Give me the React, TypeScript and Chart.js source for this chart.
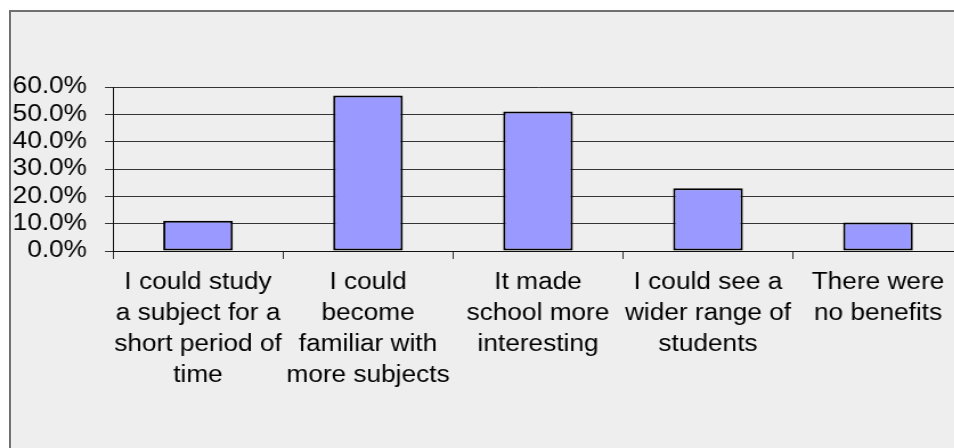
import React, { useEffect, useRef } from "react";
import { Chart, registerables } from "chart.js";

Chart.register(...registerables);

const categories: string[][] = [
  ["I could study", "a subject for a", "short period of", "time"],
  ["I could", "become", "familiar with", "more subjects"],
  ["It made", "school more", "interesting"],
  ["I could see a", "wider range of", "students"],
  ["There were", "no benefits"],
];
const values: number[] = [11.1, 56.9, 51.0, 23.0, 10.4];
const yTicks: number[] = [0, 10, 20, 30, 40, 50, 60];

const S = 1.14; // horizontal stretch of the original rendering
const CW = 860;
const CH = 448;

export default function App() {
  const ref = useRef<HTMLCanvasElement | null>(null);

  useEffect(() => {
    if (!ref.current) return;
    const font = { family: "'Liberation Sans', Arial, sans-serif", size: 23 };
    const chart = new Chart(ref.current, {
      type: "bar",
      data: {
        labels: categories,
        datasets: [
          {
            data: values,
            backgroundColor: "#9999ff",
            borderColor: "#000000",
            borderWidth: 2,
            borderSkipped: false,
            barPercentage: 0.41,
            categoryPercentage: 1,
          },
        ],
      },
      options: {
        responsive: false,
        animation: false,
        devicePixelRatio: 1,
        layout: { padding: { left: 0, top: 87, right: CW - 963 / S, bottom: 0 } },
        plugins: { legend: { display: false }, tooltip: { enabled: false } },
        scales: {
          x: {
            type: "category",
            offset: true,
            grid: {
              offset: true,
              drawOnChartArea: false,
              drawTicks: true,
              tickLength: 8,
              color: "#333333",
            },
            border: { display: true, color: "#111111", width: 1 },
            ticks: {
              color: "#000000",
              font: { ...font, lineHeight: 31 / 23 },
              maxRotation: 0,
              minRotation: 0,
              autoSkip: false,
              padding: 8,
            },
            afterFit: (scale: any) => {
              scale.height = CH - 251;
            },
          },
          y: {
            min: 0,
            max: 60,
            afterBuildTicks: (scale: any) => {
              scale.ticks = yTicks.map((v) => ({ value: v }));
            },
            grid: {
              color: "#333333",
              lineWidth: 1,
              drawTicks: true,
              tickLength: 8 / S,
            },
            border: { display: true, color: "#111111", width: 1 },
            ticks: {
              color: "#000000",
              font,
              autoSkip: false,
              padding: 18 / S,
              callback: (v: any) => Number(v).toFixed(1) + "%",
            },
            afterFit: (scale: any) => {
              scale.width = 113 / S;
            },
          },
        },
      },
    });
    return () => chart.destroy();
  }, []);

  return (
    <div
      style={{
        position: "fixed",
        left: 0,
        top: 0,
        width: 954,
        height: 448,
        overflow: "hidden",
        background: "#ffffff",
      }}
    >
      <div
        style={{
          position: "absolute",
          left: 9,
          top: 10,
          width: 1200,
          height: 700,
          border: "2px solid #707070",
          background: "#eeeeee",
        }}
      />
      <div
        style={{
          position: "absolute",
          left: 0,
          top: 0,
          width: CW,
          height: CH,
          transform: `scaleX(${S})`,
          transformOrigin: "0 0",
        }}
      >
        <canvas ref={ref} width={CW} height={CH} />
      </div>
    </div>
  );
}
